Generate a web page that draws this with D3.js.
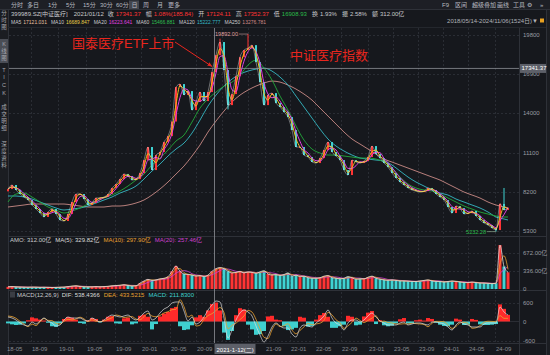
<!DOCTYPE html>
<html><head><meta charset="utf-8">
<script src="https://cdn.jsdelivr.net/npm/d3@7"></script>
<style>
html,body{margin:0;padding:0;background:#16181d;overflow:hidden}
svg{display:block}
text{font-family:"Liberation Sans",Arial,"Noto Sans CJK SC",sans-serif}
</style></head><body><svg id="c" width="550" height="355"></svg>
<script>
// ---------- data (sampled roughly every ~12 trading days) ----------
const closes=[8390,8690,8320,8020,7800,7580,7210,6910,6610,6320,
6690,6910,6540,6090,6020,6540,7430,8020,8020,7650,
7210,7350,7730,7730,7800,8020,8470,8760,9130,9510,
9360,9060,9130,9580,10540,11510,9800,10910,11140,11880,
12320,13400,15960,16180,15370,15660,14250,14850,15590,14920,
15590,17070,18330,19300,17220,14620,15440,16770,18180,18700,
18850,19070,17810,16330,14620,15370,15510,14770,14480,14100,
13730,12770,11510,11510,10910,10770,10400,10320,10690,11290,
11880,11140,10840,10540,9800,9430,10540,10400,10320,10470,
10770,11580,10990,10690,10320,10020,9580,9210,8910,8690,
8470,8320,8240,8170,8240,8470,8320,8020,7800,7580,
7060,6610,7130,6980,6540,6610,6760,6390,6090,5870,
5720,5500,5350,7300,6840,6980];
const wickHighs=[[53,19550],[60,19892.00],[124,8470]];
const wickLows=[[122,5232.28],[55,14300]];
const volumes=[40,45,38,35,33,32,35,33,30,32,
30,28,30,33,35,45,55,60,45,40,
38,40,45,40,45,50,60,65,70,80,
65,55,60,110,150,180,160,170,190,200,
230,330,430,330,280,270,260,240,250,230,
260,330,380,400,380,330,300,310,330,300,
320,310,290,320,340,280,260,270,250,270,
300,240,260,230,240,210,200,200,210,240,
250,210,200,190,200,230,210,180,190,190,
220,240,200,180,170,160,170,160,150,150,
145,140,140,150,160,170,150,140,140,130,
140,150,140,130,120,120,130,120,110,110,
105,100,110,820,420,312];
const difs=[142,110,47,-47,-110,-142,-16,-79,16,110,
16,-47,-142,-110,47,142,110,110,110,47,
16,110,47,-16,47,142,205,174,142,174,
205,110,47,142,269,332,47,110,269,395,
458,585,616,616,332,16,142,-79,-16,142,
363,521,648,616,110,-521,-269,47,269,363,
300,174,-142,-427,-648,-458,-174,-47,-142,-205,
-205,-395,-490,-205,-110,-142,-174,-47,47,174,
363,110,-47,-110,-269,-47,47,47,-16,47,
174,269,142,16,-47,-110,-110,-110,-47,-16,
-110,-79,-47,-47,-79,-110,-16,-16,-47,-79,
-174,-269,-110,-16,-79,-110,-174,-174,-174,-79,
-47,-47,-47,458,300,205];
const macdHist=[-60,-90,-110,-100,-60,40,130,100,60,30,
-40,-150,-170,-60,80,140,120,60,-50,-70,
40,110,80,-30,60,150,170,-60,-70,100,
120,-90,-60,180,220,150,-250,-80,160,250,
300,420,460,-150,-270,-250,-120,130,200,150,
350,550,600,350,-350,-580,-300,200,420,380,
-100,-250,-420,-400,-300,160,180,60,40,-150,
-270,-250,-200,150,120,-160,-140,60,200,270,
150,-200,-200,-150,-100,180,150,-120,-100,160,
280,330,-80,40,-120,-150,-130,-60,70,110,
-60,-50,40,60,30,110,80,-40,-100,-140,
-150,-100,90,60,-110,-100,80,50,-90,-110,
-110,-100,-80,540,400,210];
// long moving averages, one value every 2 samples (last one = final sample)
const ma60=[7429,8022,8096,7800,7429,7058,6835,6613,6761,6984,
7280,7503,7725,7948,8245,8615,9060,9505,10173,10692,
11286,11953,12398,13362,14401,15069,15588,16032,16329,16849,
17590,17961,17368,16478,15291,14253,13066,12027,11360,11063,
10915,10915,10841,10766,10692,10692,10618,10395,9950,9283,
8764,8467,8319,8245,8022,7725,7429,7132,6910,6687,
6539,6390,6316,6316];
const ma120=[7874,7874,7800,7651,7429,7206,6984,6835,6910,6984,
7132,7354,7577,7800,8096,8319,8615,9135,9728,10247,
10841,11360,11805,12546,13511,14549,15365,16032,16552,16922,
17145,17293,17368,17145,16700,16107,15291,14475,13659,12843,
12102,11582,11211,10915,10692,10618,10544,10470,10173,9728,
9283,8912,8615,8319,8096,7948,7651,7429,7206,6984,
6687,6316,6168,6094];
const ma250=[7058,7132,7206,7280,7280,7280,7280,7280,7206,7132,
7058,7058,7058,7132,7132,7206,7354,7577,7948,8393,
8912,9505,10099,10840,11657,12621,13437,14178,14846,15365,
15736,16032,16255,16403,16329,16107,15810,15439,14994,14401,
13807,13214,12621,12102,11731,11360,10989,10618,10395,10173,
9950,9728,9505,9283,9060,8764,8467,8170,7948,7725,
7429,7206,7058,6984];
const priceTicks=[19800,16900,14000,11100,8200,5300];
const volTicks=[672,336,0];
const volTickLabels=["672.00亿","336.00亿","0"];
const macdTicks=[600,0,-600];
const dateLabels=["18-05","18-09","19-01","19-05","19-09","20-01","20-05","20-09","21-09","22-01","22-05","22-09","23-01","23-05","23-09","24-01","24-05","24-09"];
const dateIdx=[-0.5,5.75,12.5,19.5,26.75,33.25,40.5,47,64.25,70.5,76.75,83.25,90,96.25,102.5,108.75,115,121.75];
const crossIdx=51.5, crossClose=17341.37, crossDate="2021-1-12(二)";

// ---------- setup ----------
const W=550,H=355;
const RED="#ff3434", CYAN="#3fd3d3", GRN="#2bbd4a";
const svg=d3.select("#c");
svg.append("rect").attr("width",W).attr("height",H).attr("fill","#16181d");
const n=closes.length;
const x=d3.scaleLinear().domain([0,n-1]).range([8,508]);
const y=d3.scaleLinear().domain([5300,19800]).range([230.7,35.3]);
const yv=d3.scaleLinear().domain([0,672]).range([289,253]);
const ym=d3.scaleLinear().domain([-600,600]).range([340.5,302.5]);
const fs=6;

// chrome
svg.append("rect").attr("x",0).attr("y",0).attr("width",W).attr("height",9.5).attr("fill","#1d1f25");
svg.append("rect").attr("x",0).attr("y",9.5).attr("width",8).attr("height",H-9.5).attr("fill","#1b1d22");
svg.append("rect").attr("x",546).attr("y",9.5).attr("width",4).attr("height",H-9.5).attr("fill","#1b1d22");
const sep=(x1,y1,x2,y2,c)=>svg.append("line").attr("x1",x1).attr("y1",y1).attr("x2",x2).attr("y2",y2).attr("stroke",c||"#2e3138").attr("stroke-width",1);
sep(0,9.5,W,9.5);
sep(8.5,9.5,8.5,H);
sep(519.5,27,519.5,H);
sep(546.5,9.5,546.5,H);
sep(8,27.5,546,27.5,"#24272d");
sep(8,236.5,546,236.5);
sep(8,290.5,546,290.5);
sep(8,343.5,546,343.5);

// grid
const gridC="#2a2d34";
const gx=dateIdx.concat([53.5,60]).map(d=>Math.round(x(d))+0.5);
gx.forEach(v=>{ if(v>9&&v<519) svg.append("line").attr("x1",v).attr("x2",v).attr("y1",28).attr("y2",343).attr("stroke",gridC).attr("stroke-dasharray","2,2");});
priceTicks.forEach(t=>svg.append("line").attr("x1",9).attr("x2",519).attr("y1",Math.round(y(t))+0.5).attr("y2",Math.round(y(t))+0.5).attr("stroke",gridC).attr("stroke-dasharray","2,2"));
volTicks.slice(0,2).forEach(t=>svg.append("line").attr("x1",9).attr("x2",519).attr("y1",Math.round(yv(t))+0.5).attr("y2",Math.round(yv(t))+0.5).attr("stroke",gridC).attr("stroke-dasharray","2,2"));
[600,-600].forEach(t=>svg.append("line").attr("x1",9).attr("x2",519).attr("y1",Math.round(ym(t))+0.5).attr("y2",Math.round(ym(t))+0.5).attr("stroke",gridC).attr("stroke-dasharray","2,2"));

// ---------- price panel ----------
const opens=closes.map((c,i)=>i?closes[i-1]:closes[0]*0.98);
const gP=svg.append("g");
const line=(arr,xf)=>d3.line().x((d,i)=>xf(i)).y(d=>y(d)).curve(d3.curveMonotoneX)(arr);
const maX=i=>x(Math.min(i*2,n-1));
gP.append("path").attr("d",line(ma250,maX)).attr("fill","none").attr("stroke","#c98a86").attr("stroke-width",0.9);
gP.append("path").attr("d",line(ma120,maX)).attr("fill","none").attr("stroke","#35b9c4").attr("stroke-width",0.9);
gP.append("path").attr("d",line(ma60,maX)).attr("fill","none").attr("stroke","#23a83a").attr("stroke-width",0.9);
// wicks
wickHighs.forEach(([i,v])=>gP.append("line").attr("x1",x(i)).attr("x2",x(i)).attr("y1",y(v)).attr("y2",y(Math.max(opens[i],closes[i]))).attr("stroke",closes[i]>=opens[i]?RED:CYAN).attr("stroke-width",1));
wickLows.forEach(([i,v])=>gP.append("line").attr("x1",x(i)).attr("x2",x(i)).attr("y1",y(v)).attr("y2",y(Math.min(opens[i],closes[i]))).attr("stroke",closes[i]>=opens[i]?RED:CYAN).attr("stroke-width",1));
gP.selectAll("rect.k").data(closes).join("rect").attr("class","k")
 .attr("x",(d,i)=>x(i)-1).attr("width",2)
 .attr("y",(d,i)=>y(Math.max(d,opens[i])))
 .attr("height",(d,i)=>Math.max(1,Math.abs(y(d)-y(opens[i]))))
 .attr("fill",(d,i)=>d>=opens[i]?RED:CYAN);
// short MAs
const sma=(arr,w)=>arr.map((d,i)=>{const s=arr.slice(Math.max(0,i-w+1),i+1);return d3.mean(s);});
const lineI=(arr,sc)=>d3.line().x((d,i)=>x(i)).y(d=>sc(d)).curve(d3.curveMonotoneX)(arr);
gP.append("path").attr("d",lineI(sma(closes,3),y)).attr("fill","none").attr("stroke","#e040e0").attr("stroke-width",1);
gP.append("path").attr("d",lineI(sma(closes,2),y)).attr("fill","none").attr("stroke","#f0c020").attr("stroke-width",1);
gP.append("path").attr("d",lineI(closes,y)).attr("fill","none").attr("stroke","#e8e8e8").attr("stroke-width",0.6).attr("opacity",0.7);

// extreme labels
const pk=wickHighs[1], tr=wickLows[0];
svg.append("line").attr("x1",x(pk[0])-9).attr("x2",x(pk[0])).attr("y1",y(pk[1])).attr("y2",y(pk[1])).attr("stroke","#c9a0a0").attr("stroke-width",0.6);
svg.append("text").attr("x",x(pk[0])-10).attr("y",y(pk[1])+2).attr("text-anchor","end").attr("font-size",5.5).attr("fill","#e0a0a0").text(pk[1].toFixed(2));
svg.append("line").attr("x1",x(tr[0])-9).attr("x2",x(tr[0])).attr("y1",y(tr[1])).attr("y2",y(tr[1])).attr("stroke","#a0c0a0").attr("stroke-width",0.6);
svg.append("text").attr("x",x(tr[0])-10).attr("y",y(tr[1])+2).attr("text-anchor","end").attr("font-size",5.5).attr("fill",GRN).text(tr[1].toFixed(2));

// price axis
priceTicks.forEach(t=>svg.append("text").attr("x",523).attr("y",y(t)+2).attr("font-size",fs).attr("fill","#9a9ca2").text(t));

// annotations
svg.append("text").attr("x",72).attr("y",48).attr("font-size",13).attr("fill","#e8261e").attr("font-family","Noto Sans CJK SC").text("国泰医疗ETF上市");
svg.append("text").attr("x",290).attr("y",60).attr("font-size",13).attr("fill","#e8261e").attr("font-family","Noto Sans CJK SC").text("中证医疗指数");
const defs=svg.append("defs");
defs.append("marker").attr("id","ah").attr("viewBox","0 0 10 10").attr("refX",9).attr("refY",5).attr("markerWidth",5).attr("markerHeight",5).attr("orient","auto")
 .append("path").attr("d","M0,1L10,5L0,9z").attr("fill","#e8261e");
svg.append("line").attr("x1",175).attr("y1",42).attr("x2",x(crossIdx)-2).attr("y2",y(crossClose)-2).attr("stroke","#e8261e").attr("stroke-width",1).attr("marker-end","url(#ah)");

// ---------- volume panel ----------
svg.selectAll("rect.v").data(volumes).join("rect").attr("class","v")
 .attr("x",(d,i)=>x(i)-1.5).attr("width",3).attr("y",d=>yv(d)).attr("height",d=>yv(0)-yv(d))
 .attr("fill",(d,i)=>closes[i]>=opens[i]?RED:CYAN);
[[20,"#d040d0"],[10,"#e8a030"],[5,"#dcdcdc"]].forEach(([w,c])=>{
 svg.append("path").attr("d",lineI(sma(volumes,Math.max(1,Math.round(w/5))),yv)).attr("fill","none").attr("stroke",c).attr("stroke-width",0.8);
});
volTicks.forEach((t,k)=>svg.append("text").attr("x",523).attr("y",yv(t)+2).attr("font-size",fs).attr("fill","#9a9ca2").text(volTickLabels[k]));

// ---------- MACD panel ----------
svg.append("line").attr("x1",9).attr("x2",519).attr("y1",ym(0)).attr("y2",ym(0)).attr("stroke","#3a3d44").attr("stroke-width",0.6);
svg.selectAll("rect.m").data(macdHist).join("rect").attr("class","m")
 .attr("x",(d,i)=>x(i)-2).attr("width",4)
 .attr("y",d=>Math.min(ym(d),ym(0))).attr("height",d=>Math.abs(ym(d)-ym(0)))
 .attr("fill",d=>d>=0?"#ff2a2a":"#3fd0d0");
const deas=difs.map((d,i)=>d-macdHist[i]/2);
svg.append("path").attr("d",lineI(deas,ym)).attr("fill","none").attr("stroke","#e8a030").attr("stroke-width",0.8);
svg.append("path").attr("d",lineI(difs,ym)).attr("fill","none").attr("stroke","#dcdcdc").attr("stroke-width",0.7);
macdTicks.forEach(t=>svg.append("text").attr("x",523).attr("y",ym(t)+2).attr("font-size",fs).attr("fill","#9a9ca2").text(t));

// x-axis labels
dateLabels.forEach((l,k)=>svg.append("text").attr("x",x(dateIdx[k])+1).attr("y",351).attr("font-size",fs).attr("fill","#8a8c92").text(l));

// ---------- crosshair ----------
const cx=Math.round(x(crossIdx))+0.5, cy=y(crossClose);
svg.append("line").attr("x1",cx).attr("x2",cx).attr("y1",28).attr("y2",343).attr("stroke","#8e9096").attr("stroke-width",0.8);
svg.append("line").attr("x1",9).attr("x2",519).attr("y1",cy).attr("y2",cy).attr("stroke","#8e9096").attr("stroke-width",0.8);
svg.append("rect").attr("x",520).attr("y",cy-4.5).attr("width",26).attr("height",9).attr("fill","#5d6069");
svg.append("text").attr("x",521.5).attr("y",cy+2).attr("font-size",fs).attr("fill","#fff").text(crossClose.toFixed(2));
svg.append("rect").attr("x",cx).attr("y",344).attr("width",41).attr("height",10).attr("fill","#5d6069");
svg.append("text").attr("x",cx+2).attr("y",351.5).attr("font-size",fs).attr("fill","#fff").text(crossDate);

// ---------- headers ----------
const flow=(items,x0,yb,size)=>{let cx=x0;items.forEach(([t,c,g])=>{const el=svg.append("text").attr("x",cx).attr("y",yb).attr("font-size",size).attr("fill",c).text(t);cx+=el.node().getComputedTextLength()+(g==null?2:g);});};
const G="#c8c9cc";
flow([["399989.SZ[中证医疗]",G,6],["2021/01/12",G,4],["收",G,2],["17341.37",RED,5],["幅",G,2],["1.08%(185.84)",RED,5],["开",G,2],["17124.11",RED,5],["高",G,2],["17352.37",RED,5],["低",G,2],["16908.93",GRN,5],["换",G,2],["1.93%",G,5],["振",G,2],["2.58%",G,5],["额",G,2],["312.00亿",G,4]],11,16,fs);
flow([["MA5",G,2],["17121.031","#e8c0a0",4],["MA10",G,2],["16689.847","#e8d048",4],["MA20",G,2],["16223.641","#e040e0",4],["MA60",G,2],["15466.881","#2fbf4f",4],["MA120",G,2],["15222.777","#35b9c4",4],["MA250",G,2],["13276.781","#d08a86",4]],11,24,5);
svg.append("text").attr("x",538).attr("y",23).attr("text-anchor","end").attr("font-size",fs).attr("fill","#b0b2b8").text("2018/05/14-2024/11/06(1524日)▼");
svg.append("rect").attr("x",540).attr("y",18.5).attr("width",4).attr("height",4).attr("fill","#e8a020");
flow([["AMO: 312.00亿","#c8c9cc",4],["MA(5): 329.82亿","#dcdcdc",4],["MA(10): 297.90亿","#e8a030",4],["MA(20): 257.46亿","#d040d0",4]],10,242,fs);
svg.append("rect").attr("x",10).attr("y",291.5).attr("width",5).attr("height",6).attr("fill","#3a3d44");
flow([["MACD(12,26,9)",G,3],["DIF: 538.4366","#dcdcdc",4],["DEA: 433.5215","#e8a030",4],["MACD: 211.8300","#3fd0d0",4]],17,296.5,fs);

// toolbar
const tb=[["分时",11],["多日",27],["1分",48],["5分",66],["15分",83],["30分",100],["60分",116],["日",131.5],["周",143],["月",157],["更多",168]];
svg.append("rect").attr("x",129).attr("y",0.5).attr("width",10).attr("height",8.5).attr("fill","#43464f");
tb.forEach(([t,xx])=>svg.append("text").attr("x",xx).attr("y",7).attr("font-size",fs).attr("fill","#b8bac0").text(t));
[["F9",442],["区间",455],["超级叠加",472],["画线",497],["工具",513],["⚙",527],["»",540]].forEach(([t,xx])=>svg.append("text").attr("x",xx).attr("y",7).attr("font-size",fs).attr("fill","#b8bac0").text(t));
// sidebar vertical tabs
svg.append("rect").attr("x",0).attr("y",39).attr("width",8).attr("height",24).attr("fill","#4a4d55");
const vt=[["分",15],["时",22],["图",29],["K",46],["线",53],["图",60],["T",72],["I",79],["C",87],["K",95],["成",109],["交",116],["明",123],["细",130],["深",146],["度",153],["资",160],["料",167]];
vt.forEach(([t,yy])=>svg.append("text").attr("x",4).attr("y",yy).attr("text-anchor","middle").attr("font-size",5.5).attr("fill","#a8aab0").text(t));
</script></body></html>
